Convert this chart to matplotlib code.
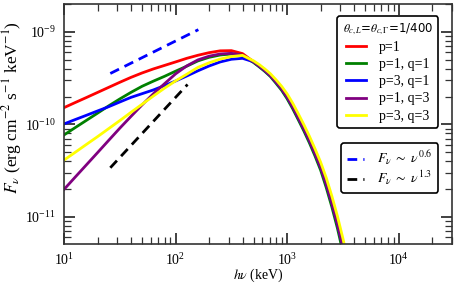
import numpy as np
import matplotlib
matplotlib.use("Agg")
import matplotlib.pyplot as plt

plt.rcParams['font.family'] = ['Liberation Serif', 'DejaVu Serif']
plt.rcParams['mathtext.fontset'] = 'stix'

# photon energy grid, log10(E / keV)
log10_energy = [1.0, 1.1, 1.2, 1.3, 1.4, 1.5, 1.6, 1.7, 1.8, 1.9, 2.0, 2.1, 2.2, 2.3, 2.4, 2.5, 2.6, 2.7,
                2.75, 2.8, 2.85, 2.9, 2.95, 3.0, 3.05, 3.1, 3.15, 3.2, 3.25, 3.3, 3.35, 3.4, 3.45, 3.5, 3.55]

# log10(F_nu / erg cm^-2 s^-1 keV^-1)
log10_flux_p1 = [-9.819, -9.764, -9.710, -9.655, -9.600, -9.545, -9.492, -9.444, -9.401, -9.363, -9.325, -9.286,
                 -9.253, -9.225, -9.205, -9.203, -9.235, -9.324,
                 -9.371, -9.419, -9.474, -9.543, -9.616, -9.706, -9.812, -9.930, -10.050, -10.177, -10.317,
                 -10.465, -10.646, -10.850, -11.077, -11.331, -11.615]
log10_flux_p1_q1 = [-10.114, -10.035, -9.957, -9.879, -9.800, -9.725, -9.654, -9.588, -9.533, -9.481, -9.425, -9.371,
                    -9.314, -9.275, -9.250, -9.239, -9.254, -9.333,
                    -9.379, -9.428, -9.483, -9.556, -9.631, -9.724, -9.832, -9.951, -10.072, -10.202, -10.343,
                    -10.495, -10.682, -10.890, -11.120, -11.382, -11.665]
log10_flux_p3_q1 = [-9.995, -9.948, -9.902, -9.855, -9.809, -9.758, -9.708, -9.668, -9.628, -9.581, -9.531, -9.477,
                    -9.421, -9.369, -9.325, -9.296, -9.286, -9.324,
                    -9.371, -9.419, -9.474, -9.543, -9.616, -9.706, -9.812, -9.930, -10.050, -10.177, -10.317,
                    -10.465, -10.646, -10.850, -11.077, -11.331, -11.615]
log10_flux_p1_q3 = [-10.703, -10.570, -10.438, -10.306, -10.173, -10.041, -9.914, -9.789, -9.670, -9.561, -9.454,
                    -9.368, -9.303, -9.263, -9.239, -9.232, -9.252, -9.324,
                    -9.371, -9.419, -9.474, -9.543, -9.616, -9.706, -9.812, -9.930, -10.050, -10.177, -10.317,
                    -10.465, -10.646, -10.850, -11.077, -11.331, -11.615]
log10_flux_p3_q3 = [-10.386, -10.302, -10.217, -10.133, -10.046, -9.959, -9.870, -9.782, -9.694, -9.609, -9.530,
                    -9.458, -9.384, -9.334, -9.294, -9.267, -9.254, -9.314,
                    -9.354, -9.401, -9.453, -9.518, -9.588, -9.671, -9.772, -9.886, -10.004, -10.130, -10.265,
                    -10.409, -10.577, -10.773, -10.990, -11.235, -11.507]

series_labels = ['p=1', 'p=1, q=1', 'p=3, q=1', 'p=1, q=3', 'p=3, q=3']
series_colors = ['#ff0000', '#008000', '#0000ff', '#800080', '#ffff00']

# reference power laws F ~ nu^index
pl_index = [0.6, 1.3]
pl_E = [[26, 160], [26, 128]]
pl_F0 = [3.55e-10, 3.4e-11]
pl_colors = ['#0000ff', '#000000']
pl_labels = [r'$F_\nu\ \sim\ \nu^{0.6}$', r'$F_\nu\ \sim\ \nu^{1.3}$']

fig = plt.figure(figsize=(4.57, 2.84), dpi=100)
ax = fig.add_axes([64/457, 1-244/284, 388/457, 240/284])

energy = 10 ** np.array(log10_energy)
all_flux = [log10_flux_p1, log10_flux_p1_q1, log10_flux_p3_q1, log10_flux_p1_q3, log10_flux_p3_q3]
handles = []
for lf, c, lab in zip(all_flux, series_colors, series_labels):
    h, = ax.plot(energy, 10 ** np.array(lf), color=c, lw=2.0, label=lab)
    handles.append(h)

pl_handles = []
for idx, (e0, e1), f0, c, lab in zip(pl_index, pl_E, pl_F0, pl_colors, pl_labels):
    ee = np.array([e0, e1], dtype=float)
    ff = f0 * (ee / e0) ** idx
    h, = ax.plot(ee, ff, color=c, lw=2.0, ls=(0, (3.5, 2.2)), label=lab)
    pl_handles.append(h)

ax.set_xscale('log')
ax.set_yscale('log')
ax.set_xlim(10, 3e4)
ax.set_ylim(5.1e-12, 2e-9)

for s in ax.spines.values():
    s.set_color('#333333')
    s.set_linewidth(1.2)
ax.tick_params(which='both', direction='in', top=True, right=True, color='#333333')
ax.tick_params(which='major', length=8, width=1.3, labelsize=10, pad=6)
ax.tick_params(which='minor', length=5, width=0.9)

ax.set_xlabel(r'$h\nu$ (keV)', fontsize=10, labelpad=-1)
ax.set_ylabel(r'$F_\nu$ (erg cm$^{-2}$ s$^{-1}$ keV$^{-1}$)', fontsize=12.5)
ax.yaxis.set_label_coords(-0.102, 0.569)

leg1 = ax.legend(handles=handles, loc='upper right', bbox_to_anchor=(0.9647, 0.951),
                 title=r'$\theta_{c,L}$=$\theta_{c,\Gamma}$=1/400', fontsize=10,
                 title_fontproperties={'size': 8.5, 'family': 'DejaVu Sans'},
                 handlelength=1.45, handletextpad=0.95, labelspacing=0.3,
                 fancybox=True, framealpha=1, edgecolor='black', borderaxespad=0)
leg1.get_frame().set_linewidth(1.2)
ax.add_artist(leg1)
leg2 = ax.legend(handles=pl_handles, loc='upper right', bbox_to_anchor=(0.9647, 0.4196),
                 fontsize=10, handlelength=1.25, handletextpad=0.95, labelspacing=0.12,
                 fancybox=True, framealpha=1, edgecolor='black', borderaxespad=0)
leg2.get_frame().set_linewidth(1.2)

fig.savefig('out.png', dpi=100)
